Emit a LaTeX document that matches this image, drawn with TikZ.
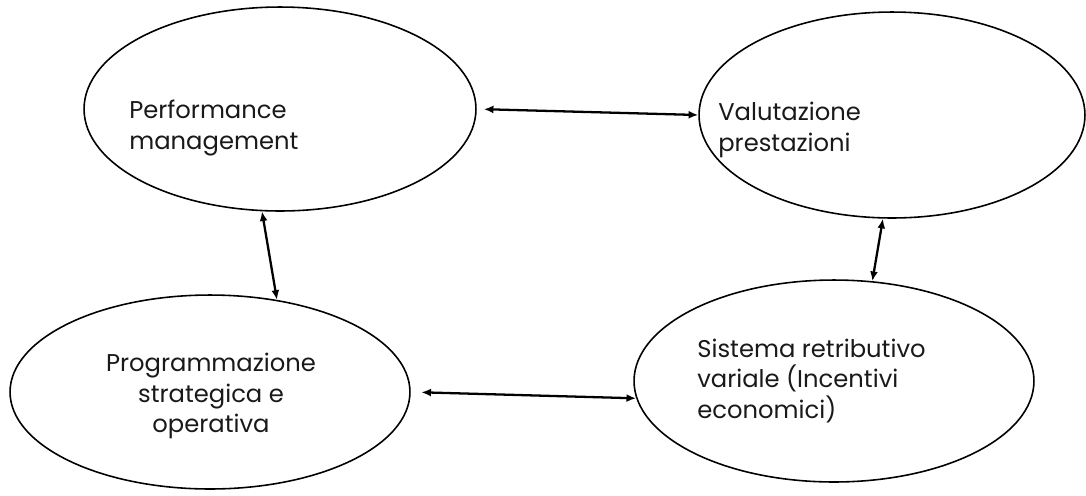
\documentclass[tikz,border=0pt]{standalone}
\usepackage{fontspec}
\setmainfont{Poppins}
\usetikzlibrary{shapes.geometric,arrows.meta}
\begin{document}
\begin{tikzpicture}[x=0.02cm,y=-0.02cm,
  oval/.style={draw,ellipse,line width=0.9pt,inner sep=0pt},
  lbl/.style={inner sep=0pt,font=\fontsize{13.8}{17.5}\selectfont,text=black!90},
  arr/.style={line width=1.3pt,{Latex[length=5.5pt,width=4.5pt]}-{Latex[length=5.5pt,width=4.5pt]}}]
\useasboundingbox (0,0) rectangle (1086,495);
\node[oval,minimum width=7.84cm,minimum height=4.08cm] (e1) at (280,109) {};
\node[oval,minimum width=7.72cm,minimum height=4.12cm] (e2) at (892,115) {};
\node[oval,minimum width=8cm,minimum height=3.88cm] (e3) at (210,392) {};
\node[oval,minimum width=8cm,minimum height=4.04cm] (e4) at (834,381) {};
\node[lbl,anchor=west,align=left] (t1) at (129,128) {Performance\\management};
\node[lbl,anchor=west,align=left] (t2) at (718,130) {Valutazione\\prestazioni};
\node[lbl,align=center] (t3) at (211,396) {Programmazione\\strategica e\\operativa};
\node[lbl,anchor=west,align=left] (t4) at (697,381) {Sistema retributivo\\variale (Incentivi\\economici)};
\draw[arr,shorten <=4pt] (e1.east) -- (e2.west);
\draw[arr] (e1.260) -- (e3.54);
\draw[arr] (e2.265) -- (e4.69);
\draw[arr,shorten <=6pt] (e3.east) -- (e4.185);
\end{tikzpicture}
\end{document}
